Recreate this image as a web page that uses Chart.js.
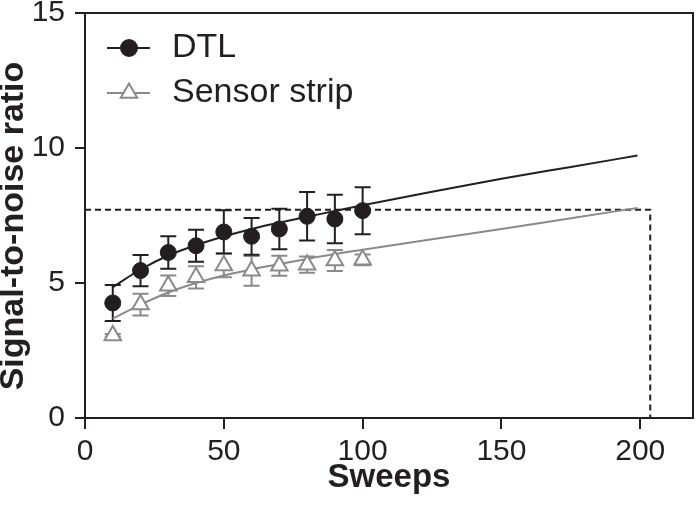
<!DOCTYPE html>
<html>
<head>
<meta charset="utf-8">
<script src="https://cdn.jsdelivr.net/npm/chart.js@4.4.1/dist/chart.umd.min.js"></script>
<style>
  html, body { margin: 0; padding: 0; background: #fff; overflow: hidden; }
  canvas { display: block; }
</style>
</head>
<body>
<canvas id="snrChart" width="696" height="516"></canvas>
<script>
    // measured points (mean +/- SD)
    const sweeps = [10, 20, 30, 40, 50, 60, 70, 80, 90, 100];
    const dtlMean = [4.26, 5.46, 6.13, 6.38, 6.89, 6.73, 7.0, 7.47, 7.37, 7.68];
    const dtlSd = [0.67, 0.58, 0.6, 0.59, 0.8, 0.68, 0.75, 0.9, 0.9, 0.87];
    const stripMean = [3.06, 4.2, 4.9, 5.21, 5.65, 5.45, 5.64, 5.68, 5.83, 5.86];
    const stripSd = [0.05, 0.4, 0.38, 0.41, 0.44, 0.55, 0.37, 0.3, 0.39, 0.2];

    // fitted curves
    const fitSweeps = [10, 20, 30, 40, 50, 60, 70, 80, 90, 100, 125, 150, 175, 199];
    const dtlFit = [4.85, 5.5, 6.02, 6.4, 6.72, 7.0, 7.24, 7.45, 7.67, 7.88, 8.38, 8.86, 9.3, 9.72];
    const stripFit = [3.68, 4.2, 4.65, 5.0, 5.28, 5.5, 5.7, 5.89, 6.07, 6.23, 6.62, 7.0, 7.4, 7.78];

    // dashed guide
    const cutoffSweeps = [0, 203.6, 203.6];
    const cutoffSnr = [7.71, 7.71, 0];

    const xTicks = [0, 50, 100, 150, 200];
    const yTicks = [0, 5, 10, 15];

    const ink = '#231f20';
    const grey = '#8a8a8a';
    const font = '"Liberation Sans", Arial, sans-serif';

    const toXY = (xs, ys) => xs.map((x, i) => ({ x: x, y: ys[i] }));

    const errorBars = {
      id: 'errorBars',
      beforeDatasetsDraw(chart) {
        const { ctx, scales: { x, y } } = chart;
        const groups = [
          { mean: stripMean, sd: stripSd, color: grey },
          { mean: dtlMean, sd: dtlSd, color: ink }
        ];
        ctx.save();
        ctx.lineWidth = 2;
        groups.forEach(g => {
          ctx.strokeStyle = g.color;
          sweeps.forEach((s, i) => {
            const px = x.getPixelForValue(s);
            const top = y.getPixelForValue(g.mean[i] + g.sd[i]);
            const bot = y.getPixelForValue(g.mean[i] - g.sd[i]);
            ctx.beginPath();
            ctx.moveTo(px, top); ctx.lineTo(px, bot);
            ctx.moveTo(px - 8, top); ctx.lineTo(px + 8, top);
            ctx.moveTo(px - 8, bot); ctx.lineTo(px + 8, bot);
            ctx.stroke();
          });
        });
        // top and right frame
        const a = chart.chartArea;
        ctx.strokeStyle = ink;
        ctx.beginPath();
        ctx.moveTo(a.left, a.top);
        ctx.lineTo(a.right, a.top);
        ctx.lineTo(a.right, a.bottom);
        ctx.stroke();
        ctx.restore();
      }
    };

    const boxLegend = {
      id: 'boxLegend',
      afterDraw(chart) {
        const { ctx, chartArea: a } = chart;
        const items = [
          { ds: chart.data.datasets[0], dy: 35 },
          { ds: chart.data.datasets[1], dy: 80 }
        ];
        ctx.save();
        items.forEach(it => {
          const y = a.top + it.dy;
          ctx.strokeStyle = it.ds.borderColor;
          ctx.lineWidth = 2;
          ctx.beginPath();
          ctx.moveTo(a.left + 22, y);
          ctx.lineTo(a.left + 65, y);
          ctx.stroke();
          ctx.fillStyle = it.ds.backgroundColor;
          Chart.helpers.drawPoint(ctx, {
            pointStyle: it.ds.pointStyle, radius: it.ds.pointRadius,
            rotation: 0, borderWidth: it.ds.borderWidth
          }, a.left + 44, y);
          ctx.fillStyle = ink;
          ctx.font = '34px ' + font;
          ctx.textBaseline = 'middle';
          ctx.fillText(it.ds.label, a.left + 87, y);
        });

        // y axis title, centred where the figure has it
        ctx.font = 'bold 34px ' + font;
        ctx.textAlign = 'center';
        ctx.translate(14, 226);
        ctx.rotate(-Math.PI / 2);
        ctx.fillText('Signal-to-noise ratio', 0, 0);
        ctx.restore();
      }
    };

    new Chart(document.getElementById('snrChart'), {
      type: 'scatter',
      data: {
        datasets: [
          {
            label: 'DTL',
            data: toXY(sweeps, dtlMean),
            pointStyle: 'circle',
            pointRadius: 8,
            backgroundColor: ink,
            borderColor: ink,
            borderWidth: 1
          },
          {
            label: 'Sensor strip',
            data: toXY(sweeps, stripMean),
            pointStyle: 'triangle',
            pointRadius: 9.5,
            backgroundColor: '#ffffff',
            borderColor: grey,
            borderWidth: 2
          },
          {
            label: 'DTL fit',
            data: toXY(fitSweeps, dtlFit),
            showLine: true,
            pointRadius: 0,
            borderColor: ink,
            borderWidth: 2,
            cubicInterpolationMode: 'monotone'
          },
          {
            label: 'Sensor strip fit',
            data: toXY(fitSweeps, stripFit),
            showLine: true,
            pointRadius: 0,
            borderColor: grey,
            borderWidth: 2,
            cubicInterpolationMode: 'monotone'
          },
          {
            label: 'cutoff',
            data: toXY(cutoffSweeps, cutoffSnr),
            showLine: true,
            pointRadius: 0,
            borderColor: ink,
            borderWidth: 2,
            borderDash: [6, 4]
          }
        ]
      },
      options: {
        responsive: false,
        animation: false,
        layout: { autoPadding: false, padding: { top: 13, right: 3, left: 0, bottom: 0 } },
        plugins: { legend: { display: false }, tooltip: { enabled: false } },
        scales: {
          x: {
            type: 'linear',
            min: 0,
            max: 219,
            afterBuildTicks: s => { s.ticks = xTicks.map(v => ({ value: v })); },
            afterFit: s => { s.height = 98; s.paddingLeft = 0; s.paddingRight = 0; },
            grid: { drawOnChartArea: false, drawTicks: true, tickLength: 11, color: ink, lineWidth: 2 },
            border: { color: ink, width: 2 },
            ticks: { color: ink, font: { family: font, size: 30 }, padding: 5, maxRotation: 0 },
            title: {
              display: true, text: 'Sweeps', color: ink,
              font: { family: font, size: 33, weight: 'bold', lineHeight: 1.2 },
              padding: { top: 0, bottom: 18 }
            }
          },
          y: {
            min: 0,
            max: 15,
            afterBuildTicks: s => { s.ticks = yTicks.map(v => ({ value: v })); },
            afterFit: s => { s.width = 85; s.paddingTop = 0; s.paddingBottom = 0; },
            grid: { drawOnChartArea: false, drawTicks: true, tickLength: 10, color: ink, lineWidth: 2 },
            border: { color: ink, width: 2 },
            ticks: { color: ink, font: { family: font, size: 30 }, padding: 10 }
          }
        }
      },
      plugins: [errorBars, boxLegend]
    });
</script>
</body>
</html>
